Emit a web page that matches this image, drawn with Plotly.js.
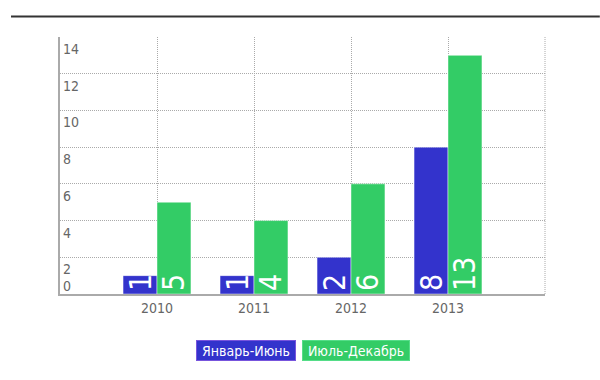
<!DOCTYPE html>
<html>
<head>
<meta charset="utf-8">
<script src="https://cdn.plot.ly/plotly-3.0.1.min.js"></script>
<style>html,body{margin:0;padding:0;background:#fff;}#chart{width:600px;height:380px;}</style>
</head>
<body>
<div id="chart"></div>
<script>
const years = ['2010', '2011', '2012', '2013'];
const firstHalf = [1, 1, 2, 8];
const secondHalf = [5, 4, 6, 13];
const seriesNames = ['Январь-Июнь', 'Июль-Декабрь'];
const seriesColors = ['#3333CC', '#33CC66'];
const yTicks = [0, 2, 4, 6, 8, 10, 12, 14];

const FONT = '"Liberation Sans Narrow", "DejaVu Sans Condensed", "Roboto", sans-serif';

function barTrace(name, vals, color) {
  return {
    type: 'bar', name: name, x: years, y: vals,
    text: vals.map(String),
    textposition: 'inside', insidetextanchor: 'start', textangle: -90,
    constraintext: 'none', cliponaxis: false,
    textfont: {family: FONT, size: 30, color: '#ffffff'},
    marker: {color: color, line: {color: 'rgba(255,255,255,0.45)', width: 1}},
    hoverinfo: 'none'
  };
}

const data = [
  barTrace(seriesNames[0], firstHalf, seriesColors[0]),
  barTrace(seriesNames[1], secondHalf, seriesColors[1])
];

const annotations = yTicks.map(v => ({
  xref: 'paper', yref: 'y', x: 0, y: v, xanchor: 'left',
  yanchor: v === 0 ? 'bottom' : 'top', xshift: 1, yshift: v === 0 ? -2 : -2,
  text: String(v), showarrow: false,
  font: {family: FONT, size: 14, color: '#666666'}
}));

const legendPos = [{x: 0.3845, w: 96}, {x: 0.6103, w: 104}];
const legendBorder = ['#7755dd', '#55dd88'];
seriesNames.forEach((n, i) => {
  annotations.push({
    xref: 'paper', yref: 'paper', x: legendPos[i].x, y: -0.2198,
    xanchor: 'center', yanchor: 'middle', text: n, showarrow: false,
    width: legendPos[i].w, height: 17, align: 'center',
    bgcolor: seriesColors[i], bordercolor: legendBorder[i], borderwidth: 1, borderpad: 1,
    font: {family: FONT, size: 14, color: '#ffffff'}
  });
});

const layout = {
  width: 600, height: 380,
  margin: {l: 60, r: 55, t: 37, b: 86},
  paper_bgcolor: '#ffffff', plot_bgcolor: '#ffffff',
  barmode: 'group', bargap: 0.3, bargroupgap: 0,
  showlegend: false,
  font: {family: FONT, color: '#666666'},
  xaxis: {
    type: 'category', range: [-1, 4],
    showgrid: true, gridcolor: '#aaaaaa', griddash: '1px,1px', gridwidth: 1,
    showline: true, linecolor: '#aaaaaa', linewidth: 2,
    ticks: '', tickfont: {family: FONT, size: 14, color: '#666666'},
    zeroline: false, fixedrange: true
  },
  yaxis: {
    range: [0, 14], tickvals: yTicks, showticklabels: false,
    showgrid: true, gridcolor: '#aaaaaa', griddash: '1px,1px', gridwidth: 1,
    showline: true, linecolor: '#aaaaaa', linewidth: 2,
    ticks: '', zeroline: false, fixedrange: true
  },
  shapes: [
    {type: 'line', xref: 'paper', yref: 'paper', x0: 1, x1: 1, y0: 0, y1: 1,
     line: {color: '#aaaaaa', width: 1, dash: '1px,1px'}},
    {type: 'line', xref: 'paper', yref: 'paper', x0: -0.101, x1: 1.113, y0: 1.0798, y1: 1.0798,
     line: {color: '#333333', width: 2}}
  ],
  annotations: annotations
};

Plotly.newPlot('chart', data, layout, {displayModeBar: false, staticPlot: true});
</script>
</body>
</html>
